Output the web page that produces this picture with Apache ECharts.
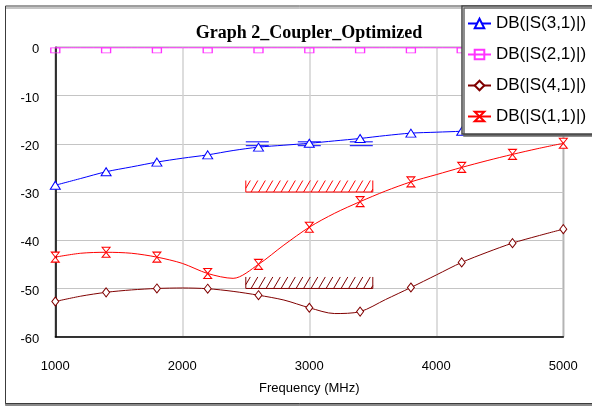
<!DOCTYPE html>
<html><head><meta charset="utf-8">
<script src="https://cdn.jsdelivr.net/npm/echarts@6/dist/echarts.min.js"></script>
<style>html,body{margin:0;padding:0;background:#fff}#c{width:592px;height:407px}</style>
</head><body><div id="c"></div>
<script>
// Frequency points (MHz); markers drawn on every other point (400 MHz spacing)
const freq = [1000,1200,1400,1600,1800,2000,2200,2400,2600,2800,3000,3200,3400,3600,3800,4000,4200,4400,4600,4800,5000];
const s31 = [-28.6,-27.2,-25.8,-24.8,-23.8,-23.0,-22.3,-21.4,-20.7,-20.3,-19.9,-19.4,-18.9,-18.3,-17.8,-17.6,-17.4,-17.1,-16.8,-16.5,-16.2];
const s21 = [-0.1,-0.1,-0.1,-0.1,-0.1,-0.1,-0.1,-0.1,-0.1,-0.1,-0.1,-0.1,-0.1,-0.1,-0.1,-0.1,-0.1,-0.1,-0.1,-0.1,-0.1];
const s41 = [-52.7,-51.6,-50.8,-50.3,-50.0,-49.9,-50.05,-50.6,-51.4,-52.4,-54.0,-55.2,-54.8,-52.3,-49.8,-47.2,-44.6,-42.5,-40.6,-39.1,-37.7];
const s11 = [-43.5,-42.7,-42.5,-42.7,-43.5,-44.8,-46.9,-47.9,-45.0,-41.0,-37.3,-34.4,-32.0,-29.8,-27.9,-26.4,-24.9,-23.5,-22.2,-21.0,-19.9];
const seriesNames = ['DB(|S(3,1)|)','DB(|S(2,1)|)','DB(|S(4,1)|)','DB(|S(1,1)|)'];
// Optimization goals
const goalBand = [2500, 3500];
const s31GoalLines = [-19.6, -20.4];
const s11Goal = -30;
const s41Goal = -50;
const yTicks = [-60,-50,-40,-30,-20,-10,0];
const xTicks = [1000,2000,3000,4000,5000];

function build(vals){
  return freq.map((f,i)=> i%2 ? {value:[f,vals[i]], symbol:'none'} : {value:[f,vals[i]]});
}
function lineSeries(name, vals, color, symbol, size, extra){
  return Object.assign({
    name, type:'line', data: build(vals), smooth:0.3, showAllSymbol:true,
    symbol, symbolSize:size,
    lineStyle:{color, width:1},
    itemStyle:{color:'#fff', borderColor:color, borderWidth:1},
    emphasis:{disabled:true}, z:3
  }, extra||{});
}
function hatchSeries(level, color){
  return {
    type:'custom', silent:true, clip:false, z:2,
    data:[[goalBand[0], goalBand[1], level]],
    renderItem(params, api){
      const p1 = api.coord([api.value(0), api.value(2)]);
      const p2 = api.coord([api.value(1), api.value(2)]);
      const base = p1[1], L = p1[0], R = p2[0];
      const h = 11.5, dx = 6.7, step = 7.5;
      const st = {stroke: color, lineWidth: 1};
      const ch = [
        {type:'line', shape:{x1:L,y1:base,x2:R,y2:base}, style:st},
        {type:'line', shape:{x1:L,y1:base,x2:L,y2:base-h}, style:st},
        {type:'line', shape:{x1:R,y1:base,x2:R,y2:base-h}, style:st}
      ];
      for(let x0 = L - dx + step*0.6; x0 < R; x0 += step){
        let xa = x0, ya = base, xb = x0+dx, yb = base-h;
        if(xa < L){ ya = base - (L-x0)/dx*h; xa = L; }
        if(xb > R){ yb = base - (R-x0)/dx*h; xb = R; }
        ch.push({type:'line', shape:{x1:xa,y1:ya,x2:xb,y2:yb}, style:st});
      }
      return {type:'group', children: ch};
    }
  };
}
const goal31 = {
  type:'custom', silent:true, clip:false, z:2,
  data: s31GoalLines.map(v=>[goalBand[0], goalBand[1], v]),
  renderItem(params, api){
    const p1 = api.coord([api.value(0), api.value(2)]);
    const p2 = api.coord([api.value(1), api.value(2)]);
    return {type:'line', shape:{x1:p1[0],y1:p1[1],x2:p2[0],y2:p2[1]},
      style:{stroke:'#0000ff', lineWidth:1, lineDash:[23,29]}};
  }
};

const chart = echarts.init(document.getElementById('c'), null, {renderer:'canvas'});
chart.setOption({
  animation:false,
  backgroundColor:'#fff',
  textStyle:{fontFamily:'Liberation Sans, Arial, sans-serif'},
  graphic:[
    {type:'rect', shape:{x:5.5, y:6, width:640, height:397.5}, z:-10,
     style:{fill:'#fff', stroke:'#3c3c3c', lineWidth:1, shadowColor:'#8a8a8a', shadowOffsetY:2, shadowOffsetX:0, shadowBlur:0}},
    {type:'text', x:309, y:33.5, z:5,
     style:{text:'Graph 2_Coupler_Optimized', font:'bold 18px "Liberation Serif", "Times New Roman", serif', fill:'#000', textAlign:'center', textVerticalAlign:'middle'}}
  ],
  grid:{left:55.3, right:28.7, top:47.3, bottom:70.3, containLabel:false, outerBoundsMode:'none',
        show:true, borderColor:'#333', borderWidth:1, backgroundColor:'transparent'},
  legend:{
    data: seriesNames, orient:'vertical', left:462, top:6,
    padding:[9,30,9,5], itemGap:14, itemWidth:23, itemHeight:12,
    backgroundColor:'#fff', borderColor:'#444', borderWidth:1.5,
    shadowColor:'#6a6a6a', shadowOffsetX:2, shadowOffsetY:2, shadowBlur:0,
    textStyle:{fontSize:17, color:'#000', lineHeight:17, fontFamily:'Liberation Sans, Arial, sans-serif'},
    selectedMode:false, z:10
  },
  xAxis:{
    type:'value', min:xTicks[0], max:xTicks[xTicks.length-1], interval:1000,
    name:'Frequency (MHz)', nameLocation:'middle', nameGap:45,
    nameTextStyle:{fontSize:13, color:'#000'},
    axisLine:{show:true, onZero:false, lineStyle:{color:'#000', width:1.5}},
    axisTick:{show:false},
    axisLabel:{fontSize:13, color:'#000', margin:23, formatter:v=>String(v)},
    splitLine:{show:true, lineStyle:{color:'#d2d2d2', width:1.5}}
  },
  yAxis:{
    type:'value', min:yTicks[0], max:yTicks[yTicks.length-1], interval:10,
    axisLine:{show:true, onZero:false, lineStyle:{color:'#000', width:1.5}},
    axisTick:{show:false},
    axisLabel:{fontSize:13, color:'#000', margin:16, verticalAlign:'top', lineHeight:5, formatter:v=>String(v)},
    splitLine:{show:true, lineStyle:{color:'#c4c4c4', width:1}}
  },
  series:[
    goal31,
    hatchSeries(s11Goal, '#ff0000'),
    hatchSeries(s41Goal, '#800000'),
    lineSeries(seriesNames[0], s31, '#0000ff', 'triangle', [10,8]),
    lineSeries(seriesNames[1], s21, '#ff33ff', 'rect', [9,5], {symbolOffset:[0,2.5], itemStyle:{color:'rgba(255,255,255,0)', borderColor:'#ff33ff', borderWidth:1}}),
    lineSeries(seriesNames[2], s41, '#800000', 'diamond', [7,9]),
    lineSeries(seriesNames[3], s11, '#ff0000', 'path://M0,0H8L0,10H8Z', [8,10])
  ]
});
</script>
</body></html>
